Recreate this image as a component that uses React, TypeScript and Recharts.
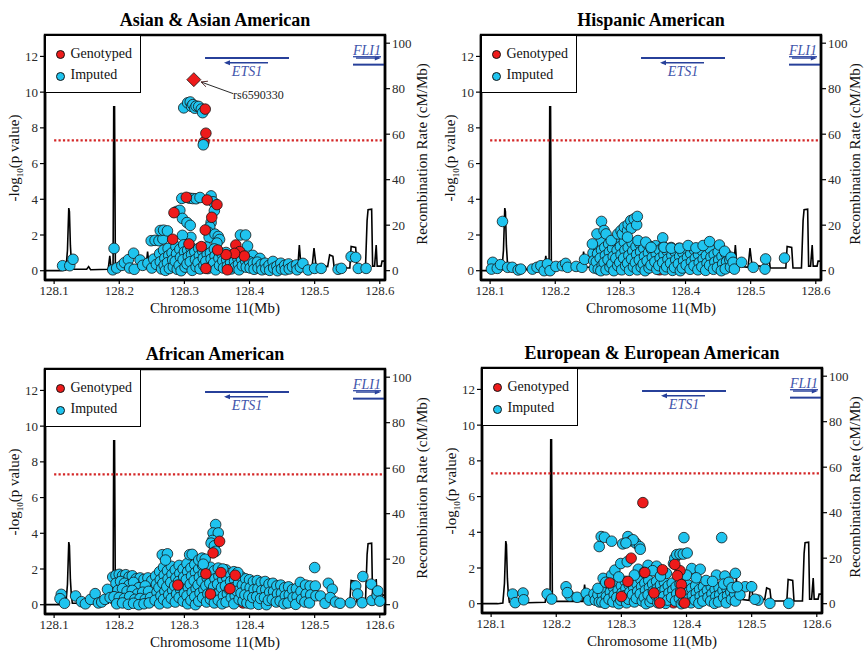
import React from 'react';
import {
  ComposedChart,
  XAxis,
  YAxis,
  Line,
  Scatter,
  ReferenceLine,
  ReferenceDot,
  ReferenceArea,
} from 'recharts';

const SERIF = '"Liberation Serif", "Times New Roman", serif';
const CYAN = '#1fc4ef';
const RED = '#ee1b1b';
const DOTTED = '#d42626';
const GENE = '#27409a';
const GENE_TEXT = '#3f55ab';

const X_DOMAIN = [128.086, 128.608];
const P_DOMAIN = [-0.52, 13.2];
const R_DOMAIN = [-4.1, 103.6];
const xTicks = [128.1, 128.2, 128.3, 128.4, 128.5, 128.6];
const pTicks = [0, 2, 4, 6, 8, 10, 12];
const recTicks = [0, 20, 40, 60, 80, 100];

// recombination rate (cM/Mb) along chr11, same map for every panel
const recombRate = [
  [128.086, 0], [128.11, 0], [128.118, 0.3], [128.1205, 9], [128.1225, 27.5], [128.1235, 26], [128.125, 11],
  [128.1265, 4], [128.128, 0.6], [128.15, 0.6], [128.153, 1.8], [128.156, 0.4], [128.183, 0.6], [128.1855, 6.5],
  [128.1875, 0.8], [128.1905, 0.8], [128.1915, 72], [128.1928, 72], [128.194, 3], [128.198, 1], [128.241, 1],
  [128.2435, 8.4], [128.246, 1.5], [128.256, 1.5], [128.2575, 4.8], [128.272, 4.8], [128.274, 1.5], [128.3, 1],
  [128.474, 1], [128.4765, 11.3], [128.479, 2], [128.496, 1.5], [128.499, 9.9], [128.502, 2.5], [128.52, 1.8],
  [128.523, 6.9], [128.528, 6.3], [128.53, 1.2], [128.554, 1.2], [128.556, 10.6], [128.563, 10.2], [128.565, 1.2],
  [128.578, 1.2], [128.5805, 22], [128.582, 26.8], [128.5875, 27], [128.589, 2], [128.592, 2], [128.5945, 11.3],
  [128.596, 2], [128.602, 2], [128.6035, 4.2], [128.608, 4.2],
];

// ---- Asian & Asian American ----
const asianLead = [[128.3145, 10.7]];
const asianImputed = [
  [128.113, 0.28], [128.124, 0.28], [128.129, 0.64], [128.19, 0.05], [128.192, 1.25], [128.196, 0.15], [128.204, 0.3],
  [128.208, 0.45], [128.214, 0.62], [128.216, 0.15], [128.222, 0.98], [128.223, 0.08], [128.232, 0.6], [128.236, 0.3],
  [128.244, 0.42], [128.25, 0.15], [128.253, 0.65], [128.257, 0.35],
  [128.249, 1.68], [128.255, 1.7], [128.261, 1.68], [128.267, 1.78], [128.263, 2.25], [128.268, 2.27], [128.274, 2.23],
  [128.288, 3.32], [128.293, 3.38], [128.297, 2.93], [128.304, 2.7], [128.309, 2.54], [128.31, 1.87], [128.297, 1.98],
  [128.296, 4.05], [128.308, 4.06], [128.313, 4.04], [128.318, 4.03], [128.324, 4.1], [128.341, 4.19], [128.344, 3.86],
  [128.346, 3.36], [128.341, 2.7], [128.339, 2.45], [128.337, 2.15], [128.338, 1.87], [128.347, 2.05], [128.352, 1.92],
  [128.354, 1.75], [128.35, 1.55], [128.386, 2.0], [128.394, 2.0], [128.397, 1.38], [128.405, 0.86], [128.416, 0.69],
  [128.299, 9.12], [128.305, 9.4], [128.309, 9.45], [128.311, 9.2], [128.313, 9.3], [128.316, 9.1], [128.318, 9.22],
  [128.322, 9.2], [128.326, 9.05], [128.328, 8.85], [128.329, 7.05],
  [128.262, 0.95], [128.263, 0.5], [128.265, 0.1], [128.268, 1.15], [128.27, 0.7], [128.269, 0.3], [128.271, 0.02],
  [128.275, 1.25], [128.276, 0.85], [128.274, 0.45], [128.277, 0.12], [128.281, 1.0], [128.282, 0.6], [128.283, 0.22],
  [128.287, 1.35], [128.288, 0.95], [128.286, 0.52], [128.289, 0.08], [128.293, 1.2], [128.294, 0.75], [128.292, 0.3],
  [128.295, 0.0], [128.299, 1.45], [128.3, 1.05], [128.298, 0.62], [128.301, 0.2], [128.305, 1.15], [128.306, 0.78],
  [128.304, 0.38], [128.31, 1.3], [128.311, 0.9], [128.309, 0.5], [128.312, 0.02], [128.316, 1.05], [128.317, 0.62],
  [128.318, 0.22], [128.322, 1.25], [128.323, 0.85], [128.321, 0.45], [128.324, 0.1], [128.328, 1.1], [128.329, 0.7],
  [128.33, 0.3], [128.334, 1.32], [128.335, 0.92], [128.333, 0.52], [128.336, 0.12], [128.34, 1.0], [128.341, 0.65],
  [128.342, 0.25], [128.346, 1.22], [128.347, 0.82], [128.345, 0.42], [128.348, 0.05], [128.352, 1.1], [128.353, 0.7],
  [128.354, 0.3], [128.358, 0.92], [128.359, 0.55], [128.36, 0.15], [128.364, 1.02], [128.365, 0.62], [128.366, 0.25],
  [128.37, 0.82], [128.371, 0.45], [128.372, 0.1], [128.376, 0.92], [128.377, 0.52], [128.378, 0.2], [128.382, 0.7],
  [128.383, 0.35], [128.384, 0.05], [128.388, 0.62], [128.389, 0.28], [128.394, 0.55], [128.395, 0.2], [128.4, 0.5],
  [128.401, 0.15], [128.406, 0.42], [128.407, 0.08], [128.412, 0.48], [128.413, 0.15], [128.418, 0.35], [128.419, 0.05],
  [128.424, 0.42], [128.425, 0.1], [128.43, 0.3], [128.431, 0.02], [128.436, 0.52], [128.437, 0.15], [128.442, 0.25],
  [128.443, 0.0], [128.448, 0.42], [128.449, 0.1], [128.454, 0.3], [128.455, 0.05], [128.46, 0.38], [128.461, 0.1],
  [128.466, 0.22], [128.472, 0.32], [128.473, 0.05], [128.478, 0.2],
  [128.482, 0.41], [128.49, 0.04], [128.5, 0.13], [128.51, 0.13], [128.536, 0.08], [128.541, 0.13], [128.556, 0.79],
  [128.563, 0.75], [128.567, 0.13], [128.579, 0.13],
];
const asianGenotypedUnder = [[128.33, 7.2], [128.29, 0.6], [128.315, 0.3], [128.345, 0.5], [128.37, 0.3], [128.4, 0.2]];
const asianGenotyped = [
  [128.332, 9.05], [128.333, 7.7], [128.303, 4.11], [128.335, 3.96], [128.35, 3.7], [128.342, 2.99], [128.332, 2.28],
  [128.284, 3.25], [128.282, 1.76], [128.379, 1.44], [128.385, 1.07], [128.392, 0.82], [128.326, 1.35], [128.377, 0.97],
  [128.364, 0.9], [128.351, 1.16], [128.333, 0.13], [128.366, 0.05], [128.307, 1.5],
];

// ---- Hispanic American ----
const hispanicImputed = [
  [128.104, 0.47], [128.102, 0.09], [128.111, 0.13], [128.116, 0.34], [128.119, 2.76], [128.127, 0.19], [128.134, 0.19],
  [128.143, 0.04], [128.147, 0.09], [128.165, 0.09], [128.172, 0.19], [128.178, 0.28], [128.183, 0.0], [128.188, 0.38],
  [128.192, 0.0], [128.201, 0.24], [128.211, 0.28], [128.216, 0.41], [128.219, 0.19], [128.232, 0.24], [128.241, 0.19],
  [128.245, 0.64],
  [128.258, 1.0], [128.259, 0.55], [128.26, 0.15], [128.264, 1.4], [128.265, 0.95], [128.263, 0.5], [128.266, 0.08],
  [128.27, 1.6], [128.271, 1.15], [128.269, 0.7], [128.272, 0.3], [128.27, 0.0], [128.276, 1.3], [128.277, 0.85],
  [128.275, 0.45], [128.278, 0.05], [128.282, 1.5], [128.283, 1.05], [128.281, 0.62], [128.284, 0.2], [128.288, 1.25],
  [128.289, 0.8], [128.287, 0.38], [128.29, 0.0], [128.294, 1.6], [128.295, 1.15], [128.293, 0.7], [128.296, 0.28],
  [128.3, 1.35], [128.301, 0.9], [128.299, 0.45], [128.302, 0.05], [128.306, 1.6], [128.307, 1.15], [128.305, 0.7],
  [128.308, 0.28], [128.312, 1.3], [128.313, 0.85], [128.311, 0.42], [128.314, 0.02], [128.318, 1.55], [128.319, 1.1],
  [128.317, 0.65], [128.32, 0.22], [128.324, 1.35], [128.325, 0.9], [128.323, 0.45], [128.326, 0.05], [128.33, 1.5],
  [128.331, 1.05], [128.329, 0.6], [128.332, 0.2], [128.336, 1.25], [128.337, 0.8], [128.335, 0.38], [128.338, 0.0],
  [128.342, 1.45], [128.343, 1.0], [128.341, 0.55], [128.344, 0.15], [128.348, 1.2], [128.349, 0.75], [128.347, 0.32],
  [128.354, 1.4], [128.355, 0.95], [128.353, 0.5], [128.356, 0.08], [128.36, 1.15], [128.361, 0.7], [128.359, 0.28],
  [128.366, 1.35], [128.367, 0.9], [128.365, 0.45], [128.368, 0.05], [128.372, 1.1], [128.373, 0.65], [128.371, 0.22],
  [128.378, 1.3], [128.379, 0.85], [128.377, 0.42], [128.38, 0.02], [128.384, 1.05], [128.385, 0.6], [128.383, 0.18],
  [128.39, 1.25], [128.391, 0.8], [128.389, 0.38], [128.392, 0.0], [128.396, 1.0], [128.397, 0.55], [128.395, 0.15],
  [128.402, 1.2], [128.403, 0.75], [128.401, 0.32], [128.408, 0.95], [128.409, 0.5], [128.407, 0.08], [128.414, 1.15],
  [128.415, 0.7], [128.413, 0.28], [128.42, 0.9], [128.421, 0.45], [128.419, 0.05], [128.426, 1.1], [128.427, 0.65],
  [128.425, 0.22], [128.432, 0.85], [128.433, 0.42], [128.431, 0.02], [128.438, 1.2], [128.439, 0.75], [128.437, 0.3],
  [128.444, 0.9], [128.445, 0.48], [128.443, 0.08], [128.45, 1.05], [128.451, 0.6], [128.449, 0.18], [128.456, 0.8],
  [128.457, 0.38], [128.455, 0.0], [128.462, 0.95], [128.463, 0.5], [128.461, 0.1], [128.468, 0.6], [128.469, 0.2],
  [128.257, 1.5], [128.264, 2.06], [128.271, 2.76], [128.275, 2.25], [128.278, 2.06], [128.286, 1.69], [128.296, 2.06],
  [128.301, 2.25], [128.303, 2.06], [128.306, 2.44], [128.311, 2.25], [128.312, 2.59], [128.316, 2.81], [128.317, 2.38],
  [128.321, 2.9], [128.325, 2.57], [128.326, 3.04], [128.311, 1.88], [128.327, 1.69], [128.339, 1.6], [128.347, 1.31],
  [128.365, 1.84], [128.367, 1.31], [128.378, 1.26], [128.391, 1.26], [128.404, 1.41], [128.416, 1.28], [128.427, 1.41],
  [128.437, 1.63], [128.452, 1.44], [128.46, 1.09], [128.47, 0.75], [128.473, 0.47], [128.475, 0.09],
  [128.486, 0.47], [128.504, 0.19], [128.522, 0.09], [128.523, 0.66], [128.552, 0.71],
];
const hispanicGenotypedUnder = [
  [128.275, 0.9], [128.29, 0.55], [128.305, 1.0], [128.318, 0.4], [128.33, 0.8], [128.342, 0.2], [128.35, 1.1],
  [128.358, 0.55], [128.37, 0.9], [128.382, 0.3], [128.395, 0.75], [128.41, 0.5], [128.425, 0.85], [128.44, 0.25],
  [128.455, 0.6], [128.3, 0.1], [128.36, 0.05],
];
const hispanicGenotyped: number[][] = [];

// ---- African American ----
const africanImputed = [
  [128.111, 0.58], [128.109, 0.34], [128.116, 0.08], [128.133, 0.49], [128.142, 0.17], [128.148, 0.05], [128.156, 0.3],
  [128.163, 0.62], [128.168, 0.1], [128.173, 0.15], [128.178, 0.3], [128.182, 0.86], [128.186, 0.4],
  [128.19, 1.55], [128.195, 1.65], [128.2, 1.7], [128.205, 1.62], [128.21, 1.68], [128.215, 1.55], [128.22, 1.62],
  [128.226, 1.45], [128.232, 1.5], [128.238, 1.42], [128.244, 1.5], [128.25, 1.35], [128.195, 1.2], [128.202, 1.3],
  [128.208, 1.2], [128.215, 1.1], [128.222, 1.25], [128.23, 0.95], [128.24, 1.05], [128.198, 0.8], [128.205, 0.9],
  [128.212, 0.75], [128.22, 0.8], [128.228, 0.6], [128.236, 0.7], [128.245, 0.75], [128.192, 0.45], [128.2, 0.4],
  [128.208, 0.35], [128.216, 0.45], [128.224, 0.3], [128.232, 0.35], [128.24, 0.3], [128.248, 0.4], [128.196, 0.05],
  [128.205, 0.1], [128.214, 0.02], [128.222, 0.08], [128.23, 0.0], [128.238, 0.05], [128.246, 0.1],
  [128.256, 1.6], [128.257, 1.15], [128.258, 0.7], [128.255, 0.25], [128.262, 1.85], [128.263, 1.4], [128.261, 0.95],
  [128.264, 0.5], [128.262, 0.05], [128.268, 2.1], [128.269, 1.65], [128.267, 1.2], [128.27, 0.75], [128.268, 0.3],
  [128.274, 1.9], [128.275, 1.45], [128.273, 1.0], [128.276, 0.55], [128.274, 0.1], [128.28, 2.15], [128.281, 1.7],
  [128.279, 1.25], [128.282, 0.8], [128.28, 0.35], [128.286, 1.95], [128.287, 1.5], [128.285, 1.05], [128.288, 0.6],
  [128.286, 0.15], [128.292, 2.2], [128.293, 1.75], [128.291, 1.3], [128.294, 0.85], [128.292, 0.4], [128.298, 2.0],
  [128.299, 1.55], [128.297, 1.1], [128.3, 0.65], [128.298, 0.2], [128.304, 2.3], [128.305, 1.85], [128.303, 1.4],
  [128.306, 0.95], [128.304, 0.5], [128.305, 0.05], [128.31, 2.05], [128.311, 1.6], [128.309, 1.15], [128.312, 0.7],
  [128.31, 0.25], [128.316, 2.25], [128.317, 1.8], [128.315, 1.35], [128.318, 0.9], [128.316, 0.45], [128.317, 0.0],
  [128.322, 2.0], [128.323, 1.55], [128.321, 1.1], [128.324, 0.65], [128.322, 0.2], [128.328, 2.2], [128.329, 1.75],
  [128.327, 1.3], [128.33, 0.85], [128.328, 0.4], [128.334, 1.95], [128.335, 1.5], [128.333, 1.05], [128.336, 0.6],
  [128.334, 0.15], [128.34, 2.1], [128.341, 1.65], [128.339, 1.2], [128.342, 0.75], [128.34, 0.3], [128.346, 1.9],
  [128.347, 1.45], [128.345, 1.0], [128.348, 0.55], [128.346, 0.1], [128.352, 2.05], [128.353, 1.6], [128.351, 1.15],
  [128.354, 0.7], [128.352, 0.25], [128.358, 1.85], [128.359, 1.4], [128.357, 0.95], [128.36, 0.5], [128.358, 0.05],
  [128.364, 1.95], [128.365, 1.5], [128.363, 1.05], [128.366, 0.6], [128.364, 0.15], [128.37, 1.75], [128.371, 1.3],
  [128.369, 0.85], [128.372, 0.4], [128.376, 1.85], [128.377, 1.4], [128.375, 0.95], [128.378, 0.5], [128.376, 0.05],
  [128.382, 1.65], [128.383, 1.2], [128.381, 0.75], [128.384, 0.3], [128.388, 1.55], [128.389, 1.1], [128.387, 0.65],
  [128.39, 0.2], [128.394, 1.45], [128.395, 1.0], [128.393, 0.55], [128.396, 0.1], [128.4, 1.4], [128.401, 0.95],
  [128.399, 0.5], [128.402, 0.05], [128.406, 1.3], [128.407, 0.85], [128.405, 0.4], [128.412, 1.35], [128.413, 0.9],
  [128.411, 0.45], [128.414, 0.02], [128.418, 1.25], [128.419, 0.8], [128.417, 0.35], [128.424, 1.3], [128.425, 0.85],
  [128.423, 0.4], [128.426, 0.0], [128.43, 1.15], [128.431, 0.7], [128.429, 0.25], [128.436, 1.2], [128.437, 0.75],
  [128.435, 0.3], [128.442, 1.05], [128.443, 0.6], [128.441, 0.15], [128.448, 1.1], [128.449, 0.65], [128.447, 0.2],
  [128.454, 0.95], [128.455, 0.5], [128.453, 0.05], [128.46, 1.0], [128.461, 0.55], [128.459, 0.1], [128.466, 0.85],
  [128.467, 0.4], [128.472, 0.9], [128.473, 0.45], [128.471, 0.02], [128.478, 1.25], [128.479, 0.75], [128.48, 0.3],
  [128.486, 1.1], [128.487, 0.6], [128.485, 0.15], [128.493, 1.05], [128.494, 0.55], [128.492, 0.1],
  [128.5, 2.08], [128.501, 1.05], [128.502, 0.5], [128.509, 0.49], [128.516, 0.08], [128.521, 1.2], [128.527, 0.87],
  [128.524, 0.4], [128.532, 0.15], [128.539, 0.08], [128.555, 0.11], [128.563, 1.05], [128.566, 0.6], [128.574, 1.58],
  [128.573, 0.11], [128.587, 1.15], [128.588, 0.24], [128.596, 0.53], [128.597, 0.77], [128.6, 0.2],
  [128.266, 2.8], [128.274, 2.85], [128.271, 2.5], [128.308, 2.8], [128.312, 2.82], [128.322, 2.5], [128.327, 2.61],
  [128.332, 2.55], [128.329, 2.27], [128.359, 2.0], [128.382, 1.8],
  [128.348, 4.49], [128.344, 4.02], [128.352, 4.02], [128.343, 3.6], [128.341, 3.45], [128.346, 3.3], [128.348, 2.99],
];
const africanGenotypedUnder = [
  [128.3, 0.5], [128.32, 1.0], [128.36, 0.3], [128.38, 1.2], [128.41, 0.6], [128.35, 1.3], [128.39, 0.1], [128.31, 1.5],
];
const africanGenotyped = [
  [128.354, 3.55], [128.344, 2.9], [128.333, 1.73], [128.378, 1.65], [128.356, 1.8], [128.29, 1.1], [128.34, 0.6],
  [128.37, 0.9],
];

// ---- European & European American ----
const europeanImputed = [
  [128.133, 0.54], [128.137, 0.06], [128.149, 0.6], [128.15, 0.22], [128.186, 0.54], [128.193, 0.26], [128.215, 0.95],
  [128.221, 0.43], [128.217, 0.62], [128.232, 0.36], [128.246, 0.58], [128.25, 0.2],
  [128.258, 0.55], [128.26, 0.2], [128.264, 0.5], [128.266, 0.1], [128.27, 0.9], [128.271, 0.5], [128.27, 0.1],
  [128.276, 0.8], [128.277, 0.4], [128.275, 0.02], [128.282, 1.05], [128.283, 0.65], [128.281, 0.25], [128.288, 0.9],
  [128.289, 0.5], [128.287, 0.1], [128.294, 1.15], [128.295, 0.75], [128.293, 0.35], [128.296, 0.0], [128.3, 1.0],
  [128.301, 0.6], [128.299, 0.2], [128.306, 1.25], [128.307, 0.85], [128.305, 0.45], [128.308, 0.05], [128.312, 1.05],
  [128.313, 0.65], [128.311, 0.25], [128.318, 1.3], [128.319, 0.9], [128.317, 0.5], [128.32, 0.1], [128.324, 1.1],
  [128.325, 0.7], [128.323, 0.3], [128.33, 1.35], [128.331, 0.95], [128.329, 0.55], [128.332, 0.15], [128.336, 1.15],
  [128.337, 0.75], [128.335, 0.35], [128.338, 0.0], [128.342, 1.3], [128.343, 0.9], [128.341, 0.5], [128.344, 0.1],
  [128.348, 1.1], [128.349, 0.7], [128.347, 0.3], [128.354, 1.25], [128.355, 0.85], [128.353, 0.45], [128.356, 0.05],
  [128.36, 1.05], [128.361, 0.65], [128.359, 0.25], [128.366, 1.2], [128.367, 0.8], [128.365, 0.4], [128.368, 0.02],
  [128.372, 1.0], [128.373, 0.6], [128.371, 0.2], [128.378, 1.15], [128.379, 0.75], [128.377, 0.35], [128.384, 0.95],
  [128.385, 0.55], [128.383, 0.15], [128.39, 1.1], [128.391, 0.7], [128.389, 0.3], [128.392, 0.0], [128.396, 0.9],
  [128.397, 0.5], [128.395, 0.1], [128.402, 1.05], [128.403, 0.65], [128.401, 0.25], [128.408, 0.85], [128.409, 0.45],
  [128.407, 0.05], [128.414, 1.0], [128.415, 0.6], [128.413, 0.2], [128.42, 0.8], [128.421, 0.4], [128.419, 0.02],
  [128.426, 0.95], [128.427, 0.55], [128.425, 0.15], [128.432, 0.75], [128.433, 0.35], [128.438, 0.95], [128.439, 0.55],
  [128.437, 0.15], [128.444, 0.8], [128.445, 0.4], [128.443, 0.02], [128.45, 0.9], [128.451, 0.5], [128.449, 0.1],
  [128.456, 0.75], [128.457, 0.35], [128.462, 0.85], [128.463, 0.45], [128.461, 0.05], [128.468, 0.65], [128.469, 0.25],
  [128.474, 0.55], [128.475, 0.15],
  [128.264, 0.86], [128.272, 1.42], [128.285, 1.6], [128.29, 1.88], [128.299, 2.25], [128.309, 2.35], [128.326, 1.93],
  [128.341, 2.15], [128.354, 2.1], [128.369, 1.7], [128.38, 2.25], [128.382, 2.55], [128.385, 2.75], [128.39, 2.78],
  [128.395, 2.78], [128.401, 2.84], [128.408, 1.97], [128.421, 1.93], [128.446, 1.6], [128.459, 1.55], [128.475, 1.7],
  [128.457, 1.1], [128.49, 0.95], [128.5, 0.95], [128.482, 0.49], [128.51, 0.2], [128.528, 0.02], [128.505, 0.25],
  [128.557, 0.02], [128.276, 1.2], [128.296, 1.5], [128.32, 1.6], [128.335, 1.75], [128.348, 1.85], [128.36, 1.55],
  [128.4, 1.6], [128.415, 1.45], [128.43, 1.3], [128.44, 1.25], [128.465, 1.2], [128.47, 0.9], [128.478, 0.95],
  [128.269, 3.76], [128.266, 3.2], [128.274, 3.72], [128.285, 3.5], [128.31, 3.76], [128.302, 3.35], [128.315, 3.52],
  [128.322, 3.4], [128.328, 3.2], [128.329, 3.05], [128.318, 3.58], [128.307, 3.4], [128.396, 3.7], [128.454, 3.7],
];
const europeanGenotypedUnder = [[128.29, 0.8], [128.31, 0.6], [128.345, 0.3], [128.365, 0.5], [128.38, 0.05], [128.4, 0.9]];
const europeanGenotyped = [
  [128.333, 5.66], [128.315, 2.55], [128.39, 1.85], [128.386, 1.57], [128.382, 2.2], [128.282, 1.16], [128.31, 1.25],
  [128.336, 1.75], [128.363, 1.9], [128.392, 1.07], [128.391, 0.6], [128.359, 0.04], [128.397, 0.04], [128.35, 0.6],
  [128.3, 0.4],
];

const recombData = recombRate.map(([x, r]) => ({ x, r }));
const toPts = (arr: number[][]) => arr.map(([x, y]) => ({ x, y }));

const dot = (fill: string) => (props: any) => (
  <circle cx={props.cx} cy={props.cy} r={5.3} fill={fill} stroke="#151515" strokeWidth={0.8} />
);
const cyanDot = dot(CYAN);
const redDot = dot(RED);
const diamond = (props: any) => {
  const { cx, cy } = props;
  const d = 7;
  return (
    <polygon
      points={`${cx},${cy - d} ${cx + d},${cy} ${cx},${cy + d} ${cx - d},${cy}`}
      fill={RED}
      stroke="#151515"
      strokeWidth={0.8}
    />
  );
};

const tickFont = { fontFamily: SERIF, fontSize: 13, fill: '#2a2a2a' };
const axisLine = { stroke: '#000', strokeWidth: 2.5 };
const tickLine = { stroke: '#000', strokeWidth: 1.2 };

const textAt = (text: string, opts: any) => (p: any) => {
  const vb = p.viewBox;
  return (
    <text
      x={vb.x + vb.width / 2 + (opts.dx || 0)}
      y={vb.y + vb.height / 2}
      textAnchor={opts.anchor || 'middle'}
      fontFamily={SERIF}
      fontSize={opts.size}
      fontStyle={opts.italic ? 'italic' : 'normal'}
      textDecoration={opts.underline ? 'underline' : undefined}
      fill={opts.color}
    >
      {text}
    </text>
  );
};

const arrowRight = (props: any) => {
  const { cx, cy } = props;
  return <polygon points={`${cx + 2},${cy} ${cx - 4},${cy - 2.5} ${cx - 4},${cy + 2.5}`} fill={GENE} />;
};
const arrowLeft = (props: any) => {
  const { cx, cy } = props;
  return <polygon points={`${cx - 2},${cy} ${cx + 4},${cy - 2.5} ${cx + 4},${cy + 2.5}`} fill={GENE} />;
};
const pointerHead = (props: any) => {
  const { cx, cy } = props;
  const a1 = (-6 * Math.PI) / 180;
  const a2 = (44 * Math.PI) / 180;
  const L = 7;
  return (
    <path
      d={`M${cx + L * Math.cos(a1)},${cy + L * Math.sin(a1)} L${cx},${cy} L${cx + L * Math.cos(a2)},${cy + L * Math.sin(a2)}`}
      fill="none"
      stroke="#5a3030"
      strokeWidth={1}
    />
  );
};

const panels = [
  {
    title: 'Asian & Asian American', left: 0, top: 0, rightLabelX: 422,
    imputed: asianImputed, genotyped: asianGenotyped, under: asianGenotypedUnder, lead: asianLead,
  },
  {
    title: 'Hispanic American', left: 436, top: 0, rightLabelX: 419,
    imputed: hispanicImputed, genotyped: hispanicGenotyped, under: hispanicGenotypedUnder, lead: null,
  },
  {
    title: 'African American', left: 0, top: 334, rightLabelX: 422,
    imputed: africanImputed, genotyped: africanGenotyped, under: africanGenotypedUnder, lead: null,
  },
  {
    title: 'European & European American', left: 437, top: 333, rightLabelX: 418,
    imputed: europeanImputed, genotyped: europeanGenotyped, under: europeanGenotypedUnder, lead: null,
  },
];

function Panel({ cfg }: { cfg: any }) {
  return (
    <div style={{ position: 'absolute', left: cfg.left, top: cfg.top, width: 429, height: 326 }}>
      <ComposedChart width={429} height={326} margin={{ top: 35, right: 14, bottom: 16, left: 15 }}>
        <XAxis
          dataKey="x"
          type="number"
          domain={X_DOMAIN}
          ticks={xTicks}
          interval={0}
          allowDataOverflow
          tickFormatter={(v: number) => v.toFixed(1)}
          height={30}
          tickSize={4}
          tickMargin={2}
          axisLine={axisLine}
          tickLine={tickLine}
          tick={tickFont}
        />
        <YAxis
          yAxisId="left"
          type="number"
          domain={P_DOMAIN}
          ticks={pTicks}
          interval={0}
          allowDataOverflow
          width={30}
          tickSize={5}
          tickMargin={2}
          axisLine={axisLine}
          tickLine={tickLine}
          tick={tickFont}
        />
        <YAxis
          yAxisId="right"
          orientation="right"
          type="number"
          domain={R_DOMAIN}
          ticks={recTicks}
          interval={0}
          allowDataOverflow
          width={30}
          tickSize={5}
          tickMargin={2}
          axisLine={axisLine}
          tickLine={tickLine}
          tick={tickFont}
        />
        <Line
          yAxisId="right"
          data={recombData}
          dataKey="r"
          type="linear"
          stroke="#000"
          strokeWidth={1.6}
          dot={false}
          activeDot={false}
          isAnimationActive={false}
        />
        <ReferenceLine
          yAxisId="left"
          segment={[{ x: 128.1, y: 7.3 }, { x: 128.607, y: 7.3 }]}
          stroke={DOTTED}
          strokeWidth={2.2}
          strokeDasharray="2.2 2.2"
        />
        <Scatter yAxisId="left" data={toPts(cfg.under)} dataKey="y" shape={redDot} isAnimationActive={false} />
        <Scatter yAxisId="left" data={toPts(cfg.imputed)} dataKey="y" shape={cyanDot} isAnimationActive={false} />
        <Scatter yAxisId="left" data={toPts(cfg.genotyped)} dataKey="y" shape={redDot} isAnimationActive={false} />
        {cfg.lead && (
          <Scatter yAxisId="left" data={toPts(cfg.lead)} dataKey="y" shape={diamond} isAnimationActive={false} />
        )}
        {cfg.lead && (
          <ReferenceLine
            yAxisId="left"
            segment={[{ x: 128.3747, y: 9.92 }, { x: 128.3255, y: 10.57 }]}
            stroke="#2a2a2a"
            strokeWidth={1}
          />
        )}
        {cfg.lead && <ReferenceDot yAxisId="left" x={128.3255} y={10.57} r={1} shape={pointerHead} />}
        {cfg.lead && (
          <ReferenceDot
            yAxisId="left"
            x={128.3747}
            y={9.61}
            r={0}
            fill="none"
            stroke="none"
            label={textAt('rs6590330', { size: 12, color: '#222', anchor: 'start', dx: 0 })}
          />
        )}
        {/* gene track */}
        <ReferenceLine yAxisId="left" segment={[{ x: 128.3317, y: 11.91 }, { x: 128.4606, y: 11.91 }]} stroke={GENE} strokeWidth={2} />
        <ReferenceLine yAxisId="left" segment={[{ x: 128.3639, y: 11.65 }, { x: 128.4284, y: 11.65 }]} stroke={GENE} strokeWidth={1.4} />
        <ReferenceDot yAxisId="left" x={128.3639} y={11.65} r={1} shape={arrowLeft} />
        <ReferenceDot
          yAxisId="left" x={128.3962} y={10.9} r={0} fill="none" stroke="none"
          label={textAt('ETS1', { size: 14, italic: true, color: GENE_TEXT })}
        />
        <ReferenceLine yAxisId="left" segment={[{ x: 128.5589, y: 11.54 }, { x: 128.6075, y: 11.54 }]} stroke={GENE} strokeWidth={2} />
        <ReferenceLine yAxisId="left" segment={[{ x: 128.5635, y: 11.91 }, { x: 128.5985, y: 11.91 }]} stroke={GENE} strokeWidth={1.4} />
        <ReferenceDot yAxisId="left" x={128.5985} y={11.91} r={1} shape={arrowRight} />
        <ReferenceDot
          yAxisId="left" x={128.5804} y={12.08} r={0} fill="none" stroke="none"
          label={textAt('FLI1', { size: 14, italic: true, underline: true, color: GENE_TEXT })}
        />
        <ReferenceArea
          yAxisId="left"
          x1={X_DOMAIN[0]}
          x2={X_DOMAIN[1]}
          y1={P_DOMAIN[0]}
          y2={P_DOMAIN[1]}
          fill="none"
          fillOpacity={0}
          stroke="#000"
          strokeWidth={2.4}
        />
      </ComposedChart>

      <div
        style={{
          position: 'absolute', left: 45, width: 340, top: 11, textAlign: 'center',
          fontFamily: SERIF, fontWeight: 'bold', fontSize: 18, lineHeight: '18px', color: '#000', whiteSpace: 'nowrap',
        }}
      >
        {cfg.title}
      </div>

      <div
        style={{
          position: 'absolute', left: 45, top: 35, width: 96, height: 58, border: '1.5px solid #000',
          background: '#fff', boxSizing: 'border-box', fontFamily: SERIF, fontSize: 14, color: '#111',
        }}
      >
        <span style={{ position: 'absolute', left: 9.8, top: 13.8, width: 9.4, height: 9.4, borderRadius: '50%', background: RED, border: '0.8px solid #151515', boxSizing: 'border-box' }} />
        <span style={{ position: 'absolute', left: 24.5, top: 10.8, lineHeight: '14px', whiteSpace: 'nowrap' }}>Genotyped</span>
        <span style={{ position: 'absolute', left: 9.8, top: 35.5, width: 9.4, height: 9.4, borderRadius: '50%', background: CYAN, border: '0.8px solid #151515', boxSizing: 'border-box' }} />
        <span style={{ position: 'absolute', left: 24.5, top: 31.8, lineHeight: '14px', whiteSpace: 'nowrap' }}>Imputed</span>
      </div>

      <div
        style={{
          position: 'absolute', left: 17, top: 158, transform: 'translate(-50%, -50%) rotate(-90deg)',
          fontFamily: SERIF, fontSize: 15, lineHeight: '15px', whiteSpace: 'nowrap', color: '#111',
        }}
      >
        -log<sub style={{ fontSize: 9 }}>10</sub>(p value)
      </div>
      <div
        style={{
          position: 'absolute', left: cfg.rightLabelX, top: 154, transform: 'translate(-50%, -50%) rotate(-90deg)',
          fontFamily: SERIF, fontSize: 15, lineHeight: '12px', whiteSpace: 'nowrap', color: '#111',
        }}
      >
        Recombination Rate (cM/Mb)
      </div>
      <div
        style={{
          position: 'absolute', left: 45, width: 340, top: 300.5, textAlign: 'center',
          fontFamily: SERIF, fontSize: 15, lineHeight: '15px', whiteSpace: 'nowrap', color: '#111',
        }}
      >
        Chromosome 11(Mb)
      </div>
    </div>
  );
}

export default function App() {
  return (
    <div
      style={{
        position: 'absolute', left: 0, top: 0, width: 864, height: 652, overflow: 'hidden', background: '#fff',
      }}
    >
      {panels.map((p) => (
        <Panel key={p.title} cfg={p} />
      ))}
    </div>
  );
}
